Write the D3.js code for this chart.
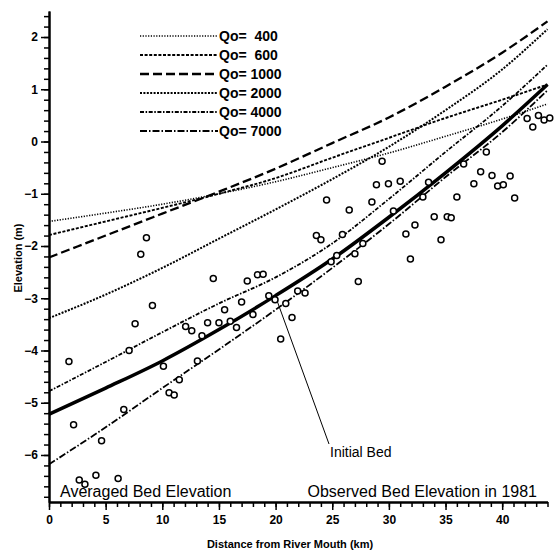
<!DOCTYPE html>
<html>
<head>
<meta charset="utf-8">
<script src="https://cdn.jsdelivr.net/npm/d3@7"></script>
<style>
  body { margin: 0; background: #fff; }
  text { font-family: "Liberation Sans", Arial, Helvetica, sans-serif; }
</style>
</head>
<body>
<script>
const width = 559;
const height = 553;

// distance stations (km) where the curves were read
const distKm = [0, 5, 10, 15, 20, 25, 30, 35, 40, 44];

// computed bed profiles (m) for each discharge
const q400  = [-1.53, -1.37, -1.20, -1.00, -0.77, -0.50, -0.22, 0.10, 0.43, 0.72];
const q600  = [-1.79, -1.53, -1.27, -1.00, -0.70, -0.31, 0.07, 0.45, 0.80, 1.09];
const q1000 = [-2.22, -1.80, -1.38, -0.96, -0.52, -0.03, 0.46, 1.05, 1.70, 2.30];
const q2000 = [-3.38, -2.93, -2.42, -1.86, -1.30, -0.72, -0.10, 0.60, 1.38, 2.15];
const q4000 = [-4.78, -4.22, -3.65, -3.10, -2.60, -1.95, -1.10, -0.20, 0.68, 1.47];
const q7000 = [-6.18, -5.47, -4.72, -3.98, -3.22, -2.42, -1.58, -0.68, 0.18, 0.98];
const initialBed = [-5.22, -4.72, -4.20, -3.60, -2.95, -2.25, -1.45, -0.60, 0.30, 1.09];

const seriesLabels = ['Qo=  400', 'Qo=  600', 'Qo= 1000', 'Qo= 2000', 'Qo= 4000', 'Qo= 7000'];

// observed (averaged) bed elevation in 1981
const obsX = [1.76, 2.17, 2.67, 3.17, 4.14, 4.64, 6.1, 6.6, 7.07, 7.6, 8.1, 8.6, 9.13, 10.1,
  10.6, 11.05, 11.5, 12.06, 12.6, 13.1, 13.5, 14.0, 14.5, 15.0, 15.5, 16.0, 16.55, 17.0,
  17.5, 18.0, 18.4, 18.9, 19.4, 19.95, 20.45, 20.9, 21.45, 21.95, 22.6, 23.6, 24.0, 24.5,
  24.9, 25.4, 25.9, 26.5, 27.0, 27.3, 27.7, 28.5, 28.9, 29.4, 29.96, 30.4, 31.0, 31.5,
  31.9, 32.3, 33.0, 33.5, 34.0, 34.6, 35.15, 35.5, 36.0, 36.6, 37.5, 38.1, 38.6, 39.1,
  39.6, 40.1, 40.7, 41.1, 42.2, 42.7, 43.2, 43.7, 44.2];
const obsY = [-4.21, -5.42, -6.48, -6.56, -6.39, -5.73, -6.45, -5.13, -4.0, -3.49, -2.16, -1.84, -3.14, -4.3,
  -4.81, -4.85, -4.56, -3.54, -3.62, -4.2, -3.72, -3.47, -2.62, -3.47, -3.22, -3.44, -3.56, -3.07,
  -2.67, -3.31, -2.55, -2.54, -2.95, -3.03, -3.78, -3.1, -3.37, -2.86, -2.9, -1.8, -1.88, -1.12,
  -2.3, -2.18, -1.78, -1.31, -2.15, -2.68, -1.95, -1.16, -0.83, -0.38, -0.81, -1.33, -0.76, -1.77,
  -2.25, -1.6, -1.06, -0.78, -1.44, -1.88, -1.44, -1.46, -1.06, -0.43, -0.81, -0.58, -0.2, -0.65,
  -0.85, -0.83, -0.66, -1.08, 0.44, 0.28, 0.5, 0.41, 0.45];

const xMajor = [0, 5, 10, 15, 20, 25, 30, 35, 40];
const xMinor = d3.range(0, 45, 1);
const yMajor = [-6, -5, -4, -3, -2, -1, 0, 1, 2];
const yMinor = d3.range(-34, 13, 1).map(d => d / 5);

const svg = d3.select('body').append('svg')
  .attr('width', width)
  .attr('height', height)
  .style('background-color', '#fff');

const x = d3.scaleLinear().domain([0, 44]).range([49, 547.5]);
const y = d3.scaleLinear().domain([-6.9, 2.5]).range([502, 10.9]);

// axes: minor ticks first, then labelled major ticks
svg.append('g')
  .attr('transform', 'translate(0,502)')
  .call(d3.axisBottom(x).tickValues(xMinor).tickSize(5).tickSizeOuter(0).tickFormat(''));
svg.append('g')
  .attr('transform', 'translate(0,502)')
  .call(d3.axisBottom(x).tickValues(xMajor).tickSize(8).tickSizeOuter(0).tickPadding(5).tickFormat(d3.format('d')));

svg.append('g')
  .attr('transform', 'translate(49,0)')
  .call(d3.axisLeft(y).tickValues(yMinor).tickSize(5).tickSizeOuter(0).tickFormat(''));
svg.append('g')
  .attr('transform', 'translate(49,0)')
  .call(d3.axisLeft(y).tickValues(yMajor).tickSize(8).tickSizeOuter(0).tickPadding(3).tickFormat(d3.format('d')));

svg.selectAll('.domain').attr('stroke', '#000').attr('stroke-width', 2);
svg.selectAll('.tick line').attr('stroke', '#000').attr('stroke-width', 1.5);
svg.selectAll('.tick text')
  .attr('fill', '#000')
  .style('font-size', '12px')
  .style('font-weight', 'bold');

// axis titles
svg.append('text')
  .attr('x', 290)
  .attr('y', 548)
  .style('text-anchor', 'middle')
  .style('font-size', '11px')
  .style('font-weight', 'bold')
  .text('Distance from River Mouth (km)');

svg.append('text')
  .attr('transform', 'translate(22,258) rotate(-90)')
  .style('text-anchor', 'middle')
  .style('font-size', '11px')
  .style('font-weight', 'bold')
  .text('Elevation (m)');

// line styles for each discharge
const styles = [
  { data: q400,  dash: '1.2,1.5',        w: 1.6 },
  { data: q600,  dash: '3,1.6',          w: 1.9 },
  { data: q1000, dash: '9,4',            w: 2.3 },
  { data: q2000, dash: '2,1.4',          w: 2.0 },
  { data: q4000, dash: '4,1.6,1.5,1.6',  w: 1.8 },
  { data: q7000, dash: '7,2,1.5,2',      w: 1.8 }
];

const line = d3.line()
  .x((d, i) => x(distKm[i]))
  .y(d => y(d))
  .curve(d3.curveMonotoneX);

styles.forEach(s => {
  svg.append('path')
    .attr('d', line(s.data))
    .attr('fill', 'none')
    .attr('stroke', '#000')
    .attr('stroke-width', s.w)
    .attr('stroke-dasharray', s.dash);
});

// initial bed (thick solid)
svg.append('path')
  .attr('d', line(initialBed))
  .attr('fill', 'none')
  .attr('stroke', '#000')
  .attr('stroke-width', 3.5);

// leader and label for the initial bed
svg.append('line')
  .attr('x1', x(20)).attr('y1', y(-2.97))
  .attr('x2', 329).attr('y2', 444)
  .attr('stroke', '#000')
  .attr('stroke-width', 1);

svg.append('text')
  .attr('x', 330)
  .attr('y', 457)
  .style('font-size', '14px')
  .text('Initial Bed');

// observed points
svg.selectAll('circle.obs')
  .data(obsX)
  .enter()
  .append('circle')
  .attr('class', 'obs')
  .attr('cx', d => x(d))
  .attr('cy', (d, i) => y(obsY[i]))
  .attr('r', 3)
  .attr('fill', '#fff')
  .attr('stroke', '#000')
  .attr('stroke-width', 1.5);

// legend
seriesLabels.forEach((label, i) => {
  const ly = 36 + i * 19;
  svg.append('line')
    .attr('x1', 140).attr('x2', 218)
    .attr('y1', ly).attr('y2', ly)
    .attr('stroke', '#000')
    .attr('stroke-width', styles[i].w)
    .attr('stroke-dasharray', styles[i].dash);
  svg.append('text')
    .attr('x', 219)
    .attr('y', ly + 5)
    .style('font-size', '14px')
    .style('font-weight', 'bold')
    .style('white-space', 'pre')
    .text(label);
});

// bottom notes
svg.append('text')
  .attr('x', 60)
  .attr('y', 497)
  .style('font-size', '16px')
  .text('Averaged Bed Elevation');

svg.append('text')
  .attr('x', 537)
  .attr('y', 497)
  .style('text-anchor', 'end')
  .style('font-size', '16px')
  .text('Observed Bed Elevation in 1981');
</script>
</body>
</html>
